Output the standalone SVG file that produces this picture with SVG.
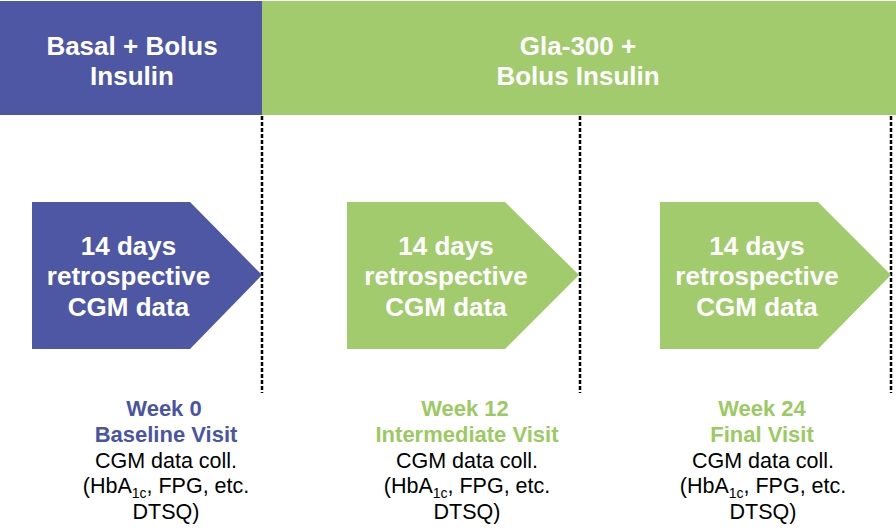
<svg xmlns="http://www.w3.org/2000/svg" width="896" height="532" viewBox="0 0 896 532">
<style>
.hd{font-family:"Liberation Sans",Arial,sans-serif;font-weight:bold;font-size:26px;fill:#fff;text-anchor:middle}
.wk{font-family:"Liberation Sans",Arial,sans-serif;font-weight:bold;font-size:22px;text-anchor:middle}
.bd{font-family:"Liberation Sans",Arial,sans-serif;font-size:21.5px;fill:#000;text-anchor:middle}
.blue{fill:#4E57A3}
.green{fill:#A2CB6D}
.tb{fill:#4A55A2}
.tg{fill:#9CCA62}
.dash{stroke:#000;stroke-width:2.5;stroke-dasharray:4 2;fill:none}
</style>
<rect width="896" height="532" fill="#fff"/>
<g id="header-basal">
<rect class="blue" x="0" y="1" width="262" height="114"/>
<text class="hd" x="132" y="55">Basal + Bolus</text>
<text class="hd" x="132" y="85">Insulin</text>
</g>
<g id="header-gla">
<rect class="green" x="262" y="1" width="634" height="114"/>
<text class="hd" x="578" y="55">Gla-300 +</text>
<text class="hd" x="578" y="85">Bolus Insulin</text>
</g>
<g id="connectors">
<line class="dash" x1="262" y1="116" x2="262" y2="393"/>
<line class="dash" x1="580" y1="116" x2="580" y2="393"/>
<line class="dash" x1="891" y1="116" x2="891" y2="393"/>
</g>
<g id="arrow-1">
<polygon class="blue" points="32,202 190,202 262,275 190,349 32,349"/>
<text class="hd" x="128.5" y="255">14 days</text>
<text class="hd" x="128.5" y="285">retrospective</text>
<text class="hd" x="128.5" y="316">CGM data</text>
</g>
<g id="arrow-2">
<polygon class="green" points="347,202 505,202 579,275 505,349 347,349"/>
<text class="hd" x="446" y="255">14 days</text>
<text class="hd" x="446" y="285">retrospective</text>
<text class="hd" x="446" y="316">CGM data</text>
</g>
<g id="arrow-3">
<polygon class="green" points="660,202 818,202 891,275 818,349 660,349"/>
<text class="hd" x="757" y="255">14 days</text>
<text class="hd" x="757" y="285">retrospective</text>
<text class="hd" x="757" y="316">CGM data</text>
</g>
<g id="visit-1">
<text class="wk tb" x="164" y="416">Week 0</text>
<text class="wk tb" x="166" y="442">Baseline Visit</text>
<text class="bd" x="166" y="468">CGM data coll.</text>
<text class="bd" x="166" y="493">(HbA<tspan font-size="14" dy="5">1c</tspan><tspan dy="-5">, FPG, etc.</tspan></text>
<text class="bd" x="166" y="519">DTSQ)</text>
</g>
<g id="visit-2">
<text class="wk tg" x="465" y="416">Week 12</text>
<text class="wk tg" x="467" y="442">Intermediate Visit</text>
<text class="bd" x="467" y="468">CGM data coll.</text>
<text class="bd" x="467" y="493">(HbA<tspan font-size="14" dy="5">1c</tspan><tspan dy="-5">, FPG, etc.</tspan></text>
<text class="bd" x="467" y="519">DTSQ)</text>
</g>
<g id="visit-3">
<text class="wk tg" x="762" y="416">Week 24</text>
<text class="wk tg" x="762" y="442">Final Visit</text>
<text class="bd" x="763" y="468">CGM data coll.</text>
<text class="bd" x="763" y="493">(HbA<tspan font-size="14" dy="5">1c</tspan><tspan dy="-5">, FPG, etc.</tspan></text>
<text class="bd" x="763" y="519">DTSQ)</text>
</g>
</svg>
